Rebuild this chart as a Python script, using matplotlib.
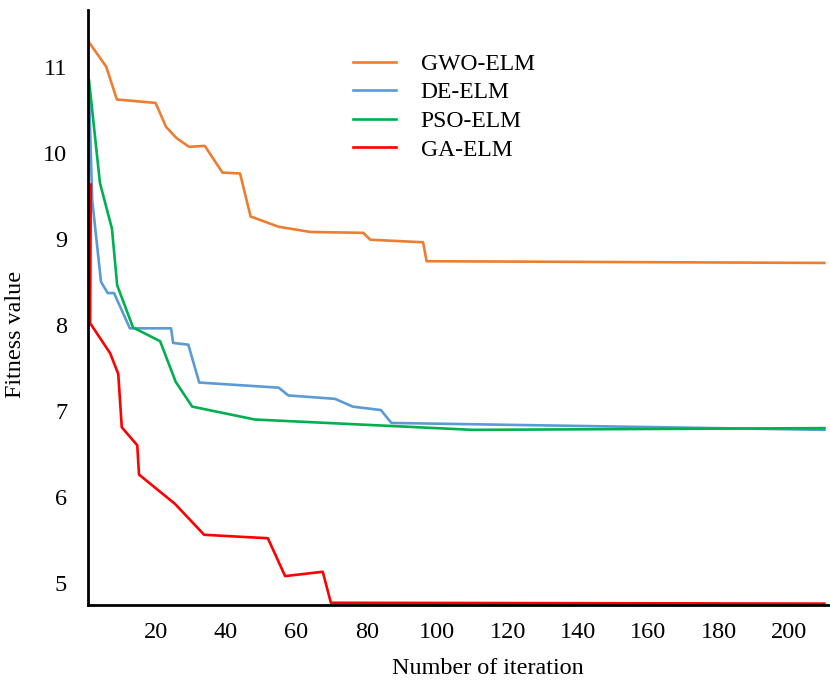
import matplotlib.pyplot as plt

# Font similar to Times New Roman
plt.rcParams['font.family'] = ['Liberation Serif', 'DejaVu Serif']

# Convergence curves (iteration, fitness value)
gwo_x = [1, 6, 9, 20, 23, 26, 29.5, 34, 39, 44, 47, 55, 64, 79, 81, 96, 97, 210]
gwo_y = [11.29, 11.0, 10.62, 10.58, 10.30, 10.17, 10.07, 10.08, 9.77, 9.76, 9.26, 9.14, 9.08, 9.07, 8.99, 8.96, 8.74, 8.72]

de_x = [1, 2, 4.5, 6.4, 8.2, 12.7, 24.4, 25, 29.3, 32.4, 55, 57.7, 71, 76, 84, 87, 210]
de_y = [10.83, 9.45, 8.50, 8.37, 8.37, 7.96, 7.96, 7.79, 7.77, 7.33, 7.27, 7.18, 7.14, 7.05, 7.01, 6.86, 6.78]

pso_x = [1.1, 4.2, 7.6, 9.1, 13.6, 21.3, 25.7, 30.4, 48.2, 89.4, 110, 210]
pso_y = [10.84, 9.65, 9.12, 8.46, 7.97, 7.81, 7.34, 7.05, 6.90, 6.82, 6.78, 6.80]

ga_x = [1.6, 1.4, 7.1, 9.4, 10.4, 14.8, 15.3, 25.5, 33.8, 51.9, 56.8, 67.5, 69.8, 210]
ga_y = [9.63, 8.02, 7.67, 7.43, 6.81, 6.60, 6.26, 5.92, 5.56, 5.52, 5.08, 5.13, 4.77, 4.76]

x_ticks = [20, 40, 60, 80, 100, 120, 140, 160, 180, 200]
y_ticks = [5, 6, 7, 8, 9, 10, 11]

fig = plt.figure(figsize=(8.3, 6.81), dpi=100)
ax = fig.add_axes([0.106, 0.1116, 0.894, 0.8737])

# Draw the four curves
ax.plot(gwo_x, gwo_y, color='#ED7D31', lw=1.9, label='GWO-ELM')
ax.plot(de_x, de_y, color='#5B9BD5', lw=1.9, label='DE-ELM')
ax.plot(pso_x, pso_y, color='#00B050', lw=1.9, label='PSO-ELM')
ax.plot(ga_x, ga_y, color='#FF0000', lw=1.9, label='GA-ELM')

ax.set_xlim(0.8, 211.6)
ax.set_ylim(4.744, 11.66)
ax.set_xticks(x_ticks)
ax.set_yticks(y_ticks)
ax.tick_params(length=0, labelsize=17.5)
ax.tick_params(axis='x', pad=12)
ax.tick_params(axis='y', pad=15)

# Only left and bottom axis lines
ax.spines['top'].set_visible(False)
ax.spines['right'].set_visible(False)
ax.spines['left'].set_linewidth(2)
ax.spines['bottom'].set_linewidth(2)

ax.set_xlabel('Number of iteration', fontsize=17.4)
ax.set_ylabel('Fitness value', fontsize=17.4)
ax.xaxis.set_label_coords(0.539, -0.089)
ax.yaxis.set_label_coords(-0.083, 0.454)

ax.legend(loc='upper left', bbox_to_anchor=(0.40, 0.953), bbox_transform=fig.transFigure,
          frameon=False, fontsize=17, handlelength=1.8, handletextpad=1.05, labelspacing=0.3)

plt.savefig('out.png', dpi=100)
